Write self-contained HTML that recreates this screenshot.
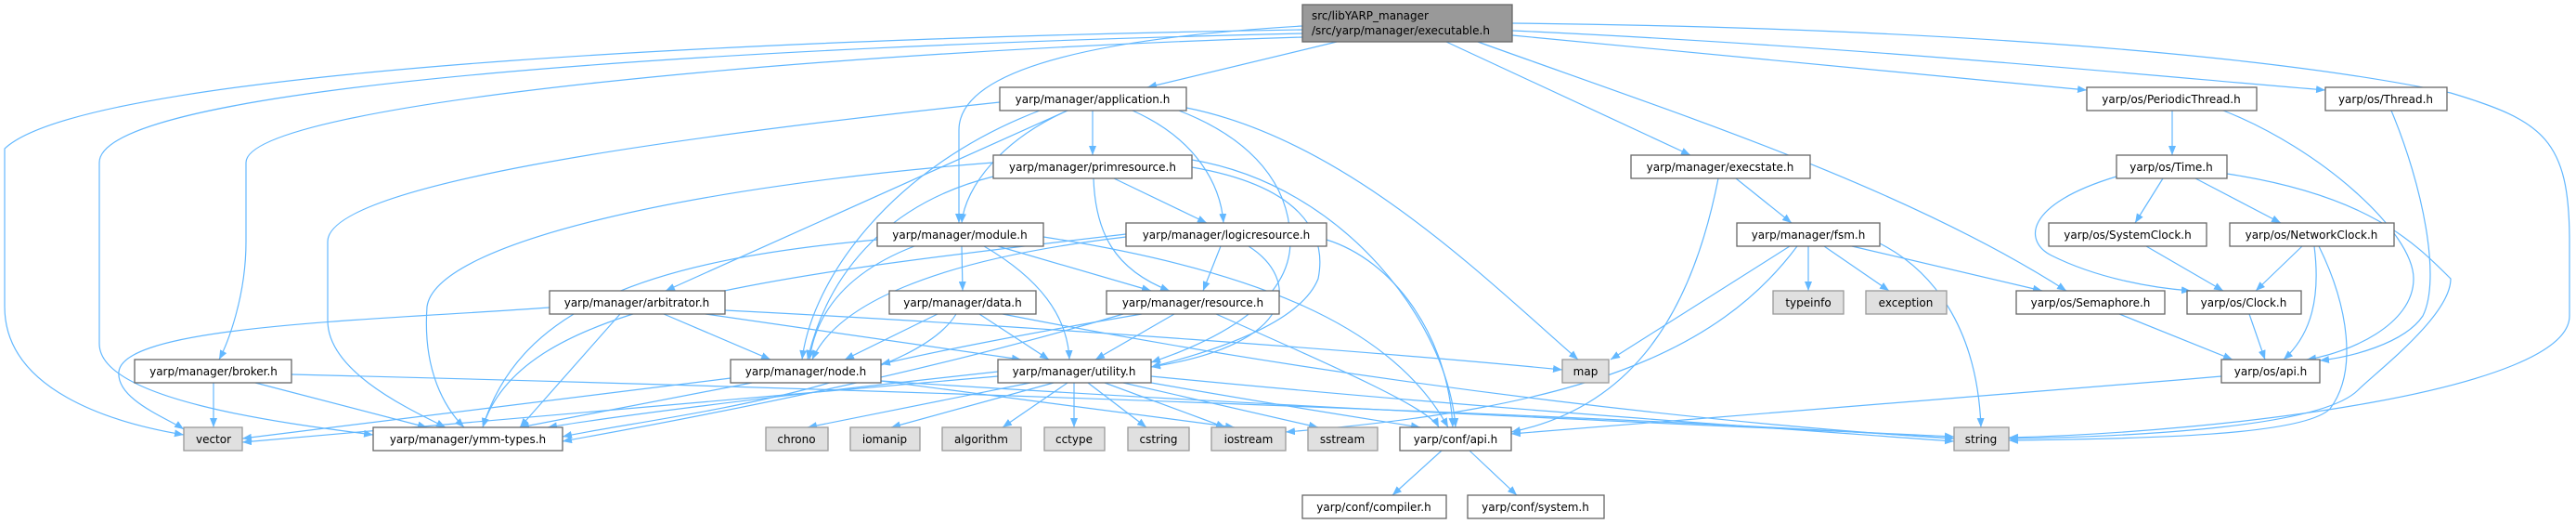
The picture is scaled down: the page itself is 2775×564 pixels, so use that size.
<!DOCTYPE html>
<html><head><meta charset="utf-8"><style>
html,body{margin:0;padding:0;background:#fff;}
svg{display:block;}
text{font-family:"DejaVu Sans","Liberation Sans",sans-serif;font-size:12px;fill:#000;}
.n{fill:#fff;stroke:#666;stroke-width:1.3;}
.s{fill:#e0e0e0;stroke:#999;stroke-width:1.3;}
.m{fill:#999;stroke:#666;stroke-width:1.3;}
.e path{fill:none;stroke:#63b8ff;stroke-width:1.2;marker-end:url(#a);}
</style></head><body>
<svg width="2775" height="564" viewBox="0 0 2775 564" xmlns="http://www.w3.org/2000/svg">
<defs><marker id="a" markerUnits="userSpaceOnUse" markerWidth="11" markerHeight="8" refX="10" refY="4" orient="auto"><path d="M0,0 L10,4 L0,8 z" fill="#63b8ff"/></marker></defs>
<g class="e">
<path d="M1403,32 C900,40 100,70 5,160 L5,330 C5,420 120,455 198,468"/>
<path d="M1403,36 C800,50 107,90 107,175 L107,370 C107,430 300,455 402,468"/>
<path d="M1403,40 C900,55 265,110 265,175 L265,260 C265,320 245,370 236,387"/>
<path d="M1440,45 L1236,94"/>
<path d="M1403,28 C1200,40 1033,70 1033,140 L1033,240"/>
<path d="M1558,45 L1821,167"/>
<path d="M1592,45 C1800,120 2050,200 2226,313"/>
<path d="M1629,38 L2248,97"/>
<path d="M1629,33 C2000,50 2300,80 2505,97"/>
<path d="M1629,25 C2100,30 2450,60 2640,100 C2740,130 2768,150 2768,260 L2768,340 C2768,420 2400,465 2164,471"/>
<path d="M1177,119 L1177,167"/>
<path d="M1150,119 C1080,150 1040,200 1036,240"/>
<path d="M1220,119 C1290,150 1315,200 1318,240"/>
<path d="M1150,119 L717,313"/>
<path d="M1270,119 C1350,150 1390,200 1390,260 C1390,330 1300,370 1240,390"/>
<path d="M1278,116 C1450,150 1600,300 1700,387"/>
<path d="M1077,110 C700,150 353,200 353,260 L353,345 C353,400 440,440 480,460"/>
<path d="M1120,119 C960,180 875,300 864,387"/>
<path d="M1200,192 L1300,240"/>
<path d="M1178,192 C1180,250 1200,290 1260,313"/>
<path d="M1070,190 C950,220 890,300 870,387"/>
<path d="M1284,180 C1400,200 1430,250 1420,300 C1400,350 1300,380 1240,395"/>
<path d="M1284,172 C1450,200 1560,350 1568,460"/>
<path d="M1070,175 C750,200 470,260 460,330 C455,400 480,440 500,460"/>
<path d="M1315,265 L1296,313"/>
<path d="M1213,255 C1000,280 900,330 875,387"/>
<path d="M1345,265 C1400,300 1400,370 1240,395"/>
<path d="M1429,258 C1500,280 1560,360 1565,460"/>
<path d="M1213,252 C800,300 560,330 520,460"/>
<path d="M1036,265 L1037,313"/>
<path d="M1075,265 L1240,313"/>
<path d="M985,265 C920,290 880,330 872,387"/>
<path d="M1060,265 C1120,300 1150,340 1152,387"/>
<path d="M1124,255 C1350,290 1500,350 1560,460"/>
<path d="M945,258 C700,280 560,330 520,460"/>
<path d="M715,338 L830,387"/>
<path d="M760,338 L1100,387"/>
<path d="M668,338 L560,460"/>
<path d="M592,331 C400,345 134,350 128,400 C125,430 180,450 198,462"/>
<path d="M781,334 C1100,350 1500,380 1683,398"/>
<path d="M1010,338 L910,387"/>
<path d="M1055,338 L1130,387"/>
<path d="M1030,338 C980,420 700,450 606,470"/>
<path d="M1080,338 C1500,420 1900,460 2105,472"/>
<path d="M1230,338 C1100,360 1000,380 949,392"/>
<path d="M1265,338 L1180,387"/>
<path d="M1210,338 C1000,400 800,440 606,475"/>
<path d="M1310,338 C1450,400 1540,440 1550,460"/>
<path d="M787,407 C600,430 400,455 261,472"/>
<path d="M810,412 L560,460"/>
<path d="M949,410 C1400,440 1900,460 2105,470"/>
<path d="M949,410 C1100,430 1250,450 1330,460"/>
<path d="M1075,405 C700,440 400,465 261,476"/>
<path d="M1075,400 C800,430 650,450 590,460"/>
<path d="M1110,412 L870,460"/>
<path d="M1135,412 L960,460"/>
<path d="M1150,412 L1080,460"/>
<path d="M1157,412 L1157,460"/>
<path d="M1172,412 L1235,460"/>
<path d="M1190,412 L1320,460"/>
<path d="M1210,412 L1420,460"/>
<path d="M1240,405 C1600,440 1900,460 2105,475"/>
<path d="M1240,412 C1400,440 1500,455 1530,460"/>
<path d="M230,412 L230,460"/>
<path d="M275,412 L460,460"/>
<path d="M314,403 C1000,420 1800,450 2105,472"/>
<path d="M1870,192 L1930,240"/>
<path d="M1851,192 C1820,350 1750,440 1628,465"/>
<path d="M1928,265 L1735,387"/>
<path d="M1948,265 L1948,313"/>
<path d="M1965,265 L2035,313"/>
<path d="M1995,265 L2200,313"/>
<path d="M2025,262 C2080,290 2130,350 2134,460"/>
<path d="M1936,265 C1850,380 1700,440 1385,465"/>
<path d="M1553,485 L1500,533"/>
<path d="M1583,485 L1634,533"/>
<path d="M2340,119 L2340,167"/>
<path d="M2395,119 C2500,160 2600,250 2600,300 C2600,350 2530,380 2485,387"/>
<path d="M2576,119 C2610,200 2630,300 2610,340 C2590,370 2530,385 2499,388"/>
<path d="M2330,192 L2300,240"/>
<path d="M2365,192 L2457,240"/>
<path d="M2280,190 C2180,220 2180,260 2210,275 C2260,300 2320,310 2360,313"/>
<path d="M2399,187 C2550,210 2600,260 2640,300 C2640,340 2560,400 2540,420 C2500,460 2300,470 2164,472"/>
<path d="M2312,265 L2395,313"/>
<path d="M2480,265 L2430,313"/>
<path d="M2493,265 C2500,320 2490,360 2460,387"/>
<path d="M2498,265 C2530,330 2540,400 2510,440 C2480,470 2300,472 2164,474"/>
<path d="M2283,338 L2405,387"/>
<path d="M2423,338 L2440,387"/>
<path d="M2393,405 C2100,430 1800,455 1628,467"/>
</g>
<g>
<rect class="m" x="1403" y="5" width="226" height="40"/>
<text x="1413" y="21">src/libYARP_manager</text>
<text x="1413" y="37">/src/yarp/manager/executable.h</text>

<rect class="n" x="1077" y="94" width="201" height="25"/><text x="1177" y="111" text-anchor="middle">yarp/manager/application.h</text>
<rect class="n" x="1070" y="167" width="214" height="25"/><text x="1177" y="184" text-anchor="middle">yarp/manager/primresource.h</text>
<rect class="n" x="945" y="240" width="179" height="25"/><text x="1034" y="257" text-anchor="middle">yarp/manager/module.h</text>
<rect class="n" x="1213" y="240" width="216" height="25"/><text x="1321" y="257" text-anchor="middle">yarp/manager/logicresource.h</text>
<rect class="n" x="592" y="313" width="189" height="25"/><text x="686" y="330" text-anchor="middle">yarp/manager/arbitrator.h</text>
<rect class="n" x="958" y="313" width="158" height="25"/><text x="1037" y="330" text-anchor="middle">yarp/manager/data.h</text>
<rect class="n" x="1192" y="313" width="186" height="25"/><text x="1285" y="330" text-anchor="middle">yarp/manager/resource.h</text>
<rect class="n" x="787" y="387" width="162" height="25"/><text x="868" y="404" text-anchor="middle">yarp/manager/node.h</text>
<rect class="n" x="1075" y="387" width="165" height="25"/><text x="1157" y="404" text-anchor="middle">yarp/manager/utility.h</text>
<rect class="n" x="145" y="387" width="169" height="25"/><text x="230" y="404" text-anchor="middle">yarp/manager/broker.h</text>
<rect class="s" x="198" y="460" width="63" height="25"/><text x="230" y="477" text-anchor="middle">vector</text>
<rect class="n" x="402" y="460" width="204" height="25"/><text x="504" y="477" text-anchor="middle">yarp/manager/ymm-types.h</text>
<rect class="s" x="825" y="460" width="67" height="25"/><text x="858" y="477" text-anchor="middle">chrono</text>
<rect class="s" x="916" y="460" width="75" height="25"/><text x="953" y="477" text-anchor="middle">iomanip</text>
<rect class="s" x="1015" y="460" width="85" height="25"/><text x="1057" y="477" text-anchor="middle">algorithm</text>
<rect class="s" x="1125" y="460" width="65" height="25"/><text x="1157" y="477" text-anchor="middle">cctype</text>
<rect class="s" x="1215" y="460" width="66" height="25"/><text x="1248" y="477" text-anchor="middle">cstring</text>
<rect class="s" x="1305" y="460" width="80" height="25"/><text x="1345" y="477" text-anchor="middle">iostream</text>
<rect class="s" x="1409" y="460" width="75" height="25"/><text x="1446" y="477" text-anchor="middle">sstream</text>
<rect class="n" x="1508" y="460" width="120" height="25"/><text x="1568" y="477" text-anchor="middle">yarp/conf/api.h</text>
<rect class="n" x="1403" y="533" width="155" height="25"/><text x="1480" y="550" text-anchor="middle">yarp/conf/compiler.h</text>
<rect class="n" x="1581" y="533" width="147" height="25"/><text x="1654" y="550" text-anchor="middle">yarp/conf/system.h</text>
<rect class="s" x="1683" y="387" width="50" height="25"/><text x="1708" y="404" text-anchor="middle">map</text>
<rect class="n" x="1757" y="167" width="193" height="25"/><text x="1853" y="184" text-anchor="middle">yarp/manager/execstate.h</text>
<rect class="n" x="1871" y="240" width="154" height="25"/><text x="1948" y="257" text-anchor="middle">yarp/manager/fsm.h</text>
<rect class="s" x="1910" y="313" width="76" height="25"/><text x="1948" y="330" text-anchor="middle">typeinfo</text>
<rect class="s" x="2010" y="313" width="87" height="25"/><text x="2053" y="330" text-anchor="middle">exception</text>
<rect class="n" x="2248" y="94" width="183" height="25"/><text x="2339" y="111" text-anchor="middle">yarp/os/PeriodicThread.h</text>
<rect class="n" x="2505" y="94" width="131" height="25"/><text x="2570" y="111" text-anchor="middle">yarp/os/Thread.h</text>
<rect class="n" x="2280" y="167" width="119" height="25"/><text x="2339" y="184" text-anchor="middle">yarp/os/Time.h</text>
<rect class="n" x="2207" y="240" width="170" height="25"/><text x="2292" y="257" text-anchor="middle">yarp/os/SystemClock.h</text>
<rect class="n" x="2402" y="240" width="177" height="25"/><text x="2490" y="257" text-anchor="middle">yarp/os/NetworkClock.h</text>
<rect class="n" x="2172" y="313" width="160" height="25"/><text x="2252" y="330" text-anchor="middle">yarp/os/Semaphore.h</text>
<rect class="n" x="2356" y="313" width="123" height="25"/><text x="2417" y="330" text-anchor="middle">yarp/os/Clock.h</text>
<rect class="n" x="2393" y="387" width="106" height="25"/><text x="2446" y="404" text-anchor="middle">yarp/os/api.h</text>
<rect class="s" x="2105" y="460" width="59" height="25"/><text x="2134" y="477" text-anchor="middle">string</text>
</g>
</svg>
</body></html>
